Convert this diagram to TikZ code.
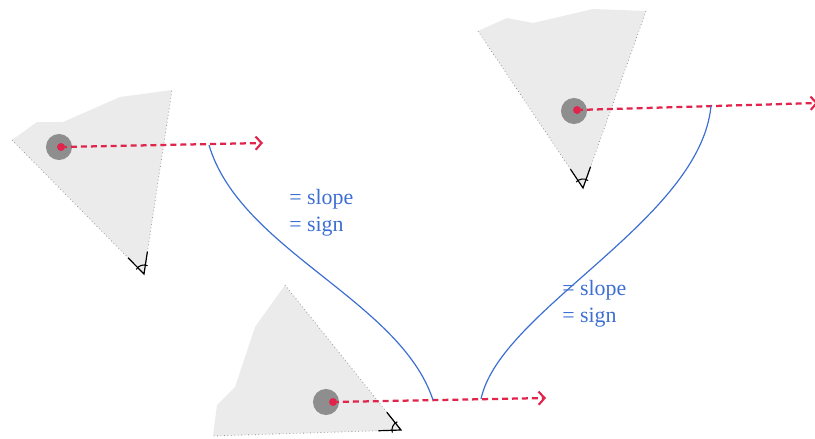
\documentclass[tikz,border=0pt]{standalone}
\usepackage{xcolor}
\usepackage{fontspec}
\setmainfont{Liberation Serif}
\usepackage{tikz}
\usetikzlibrary{arrows.meta,calc}
\definecolor{conebg}{HTML}{EBEBEB}
\definecolor{conebd}{HTML}{9A9A9A}
\definecolor{headbg}{HTML}{8E8E8E}
\definecolor{gazered}{HTML}{E0244B}
\definecolor{linkblue}{HTML}{3D6FD2}
\tikzset{
  cone/.style={fill=conebg,draw=none},
  coneedge/.style={draw=conebd,line width=0.6pt,dotted},
  head/.style={circle,fill=headbg,minimum size=0.69cm,inner sep=0pt},
  pupil/.style={circle,fill=gazered,minimum size=0.21cm,inner sep=0pt},
  gaze/.style={-{Straight Barb[length=4.5pt,width=10pt,line width=1.6pt]},
               gazered,line width=1.7pt,dash pattern=on 4.5pt off 3pt},
  link/.style={linkblue,line width=0.9pt},
  eyeline/.style={black,line width=0.9pt},
  note/.style={linkblue,align=left,anchor=north west,inner sep=0pt,
               font=\fontsize{16.5}{20.5}\selectfont},
}
\begin{document}
\begin{tikzpicture}[x=0.0265cm,y=-0.0265cm]
  \useasboundingbox (0,0) rectangle (815,438);
  % Cones
  \coordinate (apex1) at (144,274);
  \coordinate (left1) at (12,140);
  \coordinate (right1) at (172,90);
  \fill[cone](apex1)--(left1)--(37,122)--(63,122)--(120,97)--(right1)--cycle;
  \coordinate (apex2) at (401,430);
  \coordinate (left2) at (285,285);
  \coordinate (right2) at (213,436);
  \fill[cone](apex2)--(left2)--(255,327)--(235,387)--(217,405)--(right2)--cycle;
  \coordinate (apex3) at (583,188);
  \coordinate (left3) at (478,31);
  \coordinate (right3) at (646,11);
  \fill[cone](apex3)--(left3)--(507,18)--(533,23)--(593,9)--(right3)--cycle;
  % Edges and eye marks
  \foreach \i in {1,2,3}{
    \draw[coneedge](left\i)--(apex\i)--(right\i);
    \draw[eyeline]($(apex\i)!0.6cm!(left\i)$)--(apex\i)
                  --($(apex\i)!0.6cm!(right\i)$);
    \draw[eyeline,line width=0.8pt]
      let \p1=($(left\i)-(apex\i)$),\p2=($(right\i)-(apex\i)$),
          \n1={atan2(\y1,\x1)},\n2={atan2(\y2,\x2)},
          \n3={mod(\n2-\n1+540,360)-180},\n4={\n1-15*sign(\n3)} in
      ([shift={(\n4:0.24cm)}]apex\i) arc[start angle=\n4,
        delta angle=\n3+30*sign(\n3),radius=0.24cm];
  }
  % Heads
  \node[head](head1)at(59,147){};
  \node[pupil](pupil1)at(61,147){};
  \node[head](head2)at(326,402){};
  \node[pupil](pupil2)at(333,402){};
  \node[head](head3)at(574,111){};
  \node[pupil](pupil3)at(577,110){};
  % Gaze arrows
  \coordinate (tip1) at (263,143);
  \coordinate (tip2) at (546,398);
  \coordinate (tip3) at (818,103);
  \draw[gaze](pupil1.center)--(tip1);
  \draw[gaze](pupil2.center)--(tip2);
  \draw[gaze](pupil3.center)--(tip3);
  % Links
  \coordinate (from1) at (209,145);
  \coordinate (to1) at (433,400);
  \coordinate (from2) at (481,399);
  \coordinate (to2) at (711,106);
  \draw[link](from1) .. controls (240,250) and (400,300) .. (to1);
  \draw[link](from2) .. controls (500,310) and (700,220) .. (to2);
  % Labels
  \node[note](note1)at(289,189){= slope\\= sign};
  \node[note](note2)at(562,280){= slope\\= sign};
\end{tikzpicture}
\end{document}
